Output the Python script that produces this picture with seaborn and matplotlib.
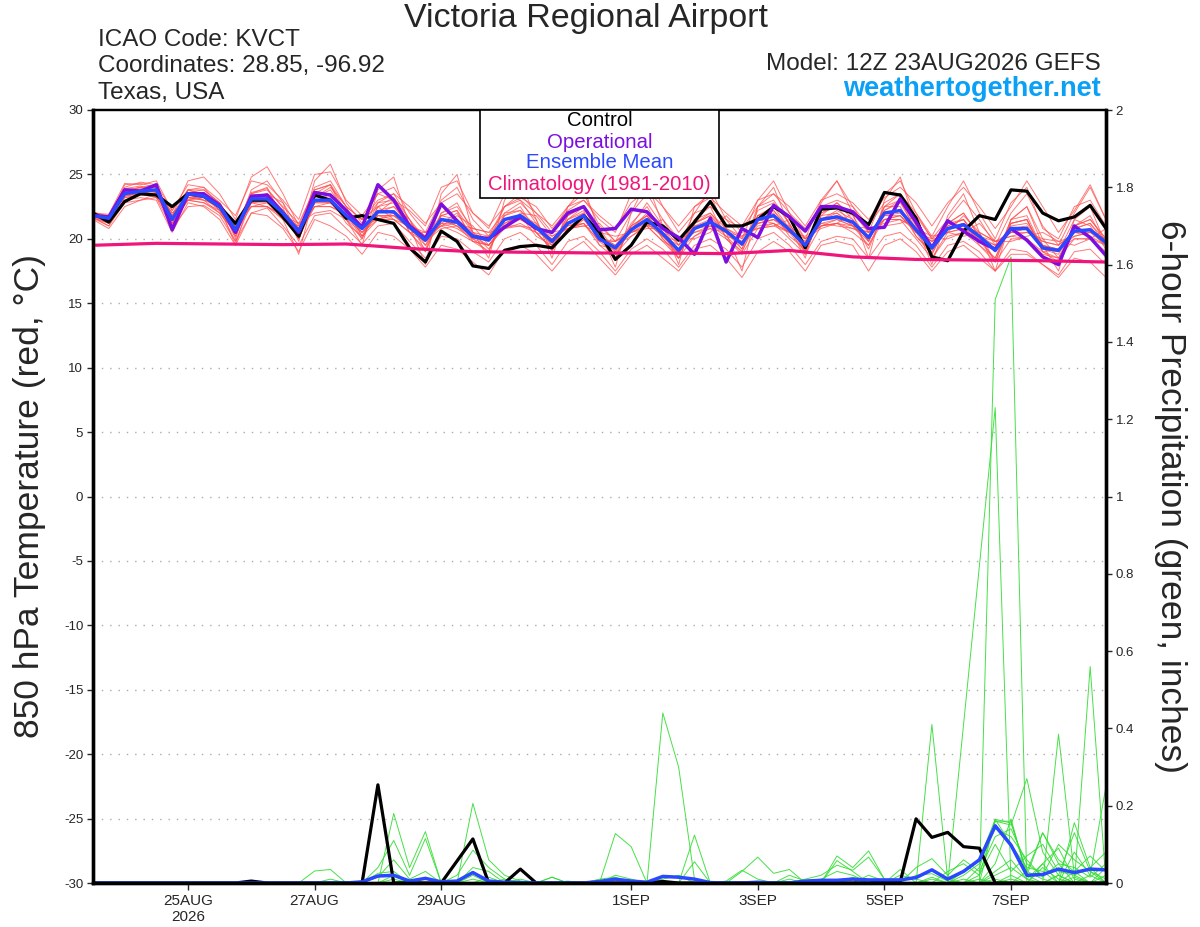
import numpy as np
import pandas as pd
import matplotlib
matplotlib.use("Agg")
import matplotlib.pyplot as plt
import seaborn as sns
from matplotlib.patches import Rectangle

# ---------------- data ----------------
step_hours = 6
n_steps = 65
tick_hours = [36, 84, 132, 204, 252, 300, 348]
tick_labels = ["25AUG\n2026", "27AUG", "29AUG", "1SEP", "3SEP", "5SEP", "7SEP"]

control_t = [22.0,21.3,22.9,23.5,23.4,22.5,23.5,23.3,22.5,21.2,23.0,23.0,21.7,20.2,23.4,23.0,
             21.6,21.8,21.5,21.2,19.3,18.2,20.6,19.8,17.9,17.7,19.1,19.4,19.5,19.3,20.6,21.8,
             20.5,18.4,19.5,21.3,21.0,19.9,21.3,22.9,21.0,21.0,21.5,22.5,21.7,19.3,22.3,22.4,
             22.0,21.1,23.6,23.4,21.6,18.6,18.3,20.6,21.8,21.5,23.8,23.7,22.0,21.4,21.7,22.6,20.8]
operational_t = [21.8,21.7,23.8,23.7,24.2,20.7,23.5,23.5,22.6,20.5,23.3,23.4,22.0,20.5,23.6,23.4,
                 22.2,20.9,24.2,23.0,21.0,20.0,22.7,21.4,20.2,20.0,20.9,21.7,20.8,20.5,22.0,22.5,
                 20.7,20.8,22.3,22.1,20.8,20.1,18.8,21.6,18.2,20.8,20.1,22.6,21.7,20.6,22.5,22.5,
                 22.1,20.8,20.9,23.1,21.3,19.3,21.4,20.6,19.8,19.2,20.8,19.9,18.6,18.0,21.0,20.1,18.7]
mean_t = [21.8,21.6,23.5,23.7,23.8,21.5,23.5,23.3,22.5,20.7,23.1,23.1,22.0,20.6,23.0,23.0,
          21.8,20.8,22.1,22.1,20.9,19.9,21.5,21.3,20.2,19.9,21.5,21.8,20.9,19.8,21.2,21.8,
          20.0,19.3,20.7,21.5,20.4,19.1,20.8,21.3,20.6,19.6,21.5,21.8,20.7,19.5,21.5,21.7,
          21.3,20.1,22.0,22.2,20.7,19.3,20.8,21.1,20.2,19.1,20.8,20.8,19.3,19.1,20.6,20.7,19.7]
clim_hours = [0, 24, 48, 72, 96, 120, 144, 168, 192, 216, 240, 264, 288, 312, 336, 360, 384]
clim_t = [19.5,19.65,19.6,19.55,19.6,19.25,19.0,18.95,18.9,18.9,18.85,19.1,18.6,18.4,18.35,18.3,18.2]

m01 = [22.0,21.5,24.2,24.3,24.0,21.8,24.5,24.8,23.5,21.5,24.8,25.6,23.5,21.0,24.0,24.5,22.5,21.5,23.5,24.0,22.0,20.5,23.0,24.0,21.5,20.2,22.5,23.5,22.0,20.5,22.5,23.5,21.0,19.8,22.0,23.5,21.5,19.5,22.0,23.8,21.5,20.0,23.0,24.5,22.0,20.0,23.0,24.5,22.5,20.5,23.5,24.5,22.0,20.0,21.5,23.0,21.5,19.5,22.0,23.5,21.0,19.5,22.0,24.0,21.5]
m02 = [21.6,21.2,22.8,23.0,23.2,20.8,22.5,22.6,21.8,19.8,22.0,22.4,21.0,19.5,21.8,22.0,20.8,19.6,21.0,21.2,19.8,18.5,20.2,20.0,19.0,18.2,20.0,20.5,19.5,18.0,19.8,20.2,19.0,17.5,19.2,20.0,19.2,17.8,19.5,20.0,19.2,17.8,20.0,20.5,19.5,18.0,19.8,20.2,20.0,18.5,20.2,20.5,19.5,17.8,19.5,19.8,19.0,17.5,19.2,19.0,18.0,17.2,19.0,19.2,18.0]
m03 = [21.9,21.8,23.9,24.1,23.7,21.2,23.8,23.4,22.8,20.2,23.6,23.9,22.4,19.8,24.5,25.8,22.8,21.2,22.8,23.5,21.5,19.0,22.0,22.5,20.8,20.5,22.0,22.8,21.5,19.0,21.5,22.5,20.5,18.5,21.0,22.8,21.0,18.8,21.5,22.0,20.8,19.2,22.2,22.8,21.2,18.8,22.0,22.8,21.8,19.8,22.5,23.5,21.2,18.5,20.5,21.8,20.5,18.2,21.5,22.5,20.0,18.5,21.0,21.5,20.0]
m04 = [21.7,21.0,23.2,23.4,23.9,22.0,23.0,23.2,22.2,21.0,22.5,22.8,21.5,21.0,22.5,22.5,22.0,21.5,22.5,21.5,20.5,20.5,21.0,20.5,19.8,19.5,21.0,21.0,20.5,20.0,21.0,21.2,19.5,19.2,20.5,21.0,19.8,19.2,20.2,21.0,20.8,20.2,21.2,21.5,21.0,20.0,21.0,21.2,20.8,20.5,21.5,21.8,20.5,19.8,20.5,20.8,20.0,19.5,20.5,20.5,19.8,19.5,20.5,20.2,19.5]
m05 = [21.8,21.4,24.0,24.4,24.2,20.8,23.8,24.0,22.5,19.5,23.5,24.0,21.5,18.8,23.5,24.2,21.5,19.5,23.8,24.8,21.0,18.0,23.5,25.0,20.5,18.5,23.0,24.5,21.5,18.5,22.5,24.0,20.5,17.8,22.0,24.5,21.0,18.0,22.5,23.5,20.5,17.5,22.5,24.0,21.0,18.5,22.8,24.5,22.0,18.5,23.0,24.8,21.0,18.0,21.8,23.5,20.5,17.5,21.5,22.5,19.5,17.5,21.5,22.5,19.5]
m06 = [21.5,20.8,22.5,23.0,23.5,21.2,23.0,22.8,22.0,20.5,22.8,23.0,22.0,20.2,22.8,23.5,22.2,20.2,21.5,22.0,21.2,20.2,21.5,21.0,20.0,19.5,21.2,21.8,21.2,19.5,20.5,21.5,20.2,19.5,20.2,21.0,20.8,19.5,20.5,21.0,20.2,19.8,21.0,21.2,20.5,19.8,21.2,21.0,20.8,20.2,21.5,21.5,20.8,19.8,20.5,20.2,20.5,19.8,20.2,20.0,19.0,19.2,20.0,20.0,19.5]
m07 = [22.1,21.7,23.6,23.5,23.5,21.0,23.5,23.0,22.8,20.8,23.0,23.5,22.8,20.8,23.5,23.0,21.5,20.5,22.0,22.5,21.5,20.0,21.0,21.8,21.0,19.5,21.0,22.0,21.8,20.2,20.8,21.0,21.2,19.8,20.5,21.0,21.5,20.0,20.0,20.5,21.8,20.5,20.8,21.0,21.5,20.0,20.8,21.2,22.0,20.5,21.0,21.2,21.8,20.0,20.0,20.5,21.2,19.8,19.8,20.2,20.5,19.8,19.5,20.0,20.8]
m08 = [21.8,21.5,23.8,24.0,23.6,21.5,23.2,23.5,22.5,20.2,23.2,23.0,21.8,20.5,23.0,22.8,21.5,20.0,22.5,22.8,20.5,19.0,21.8,22.2,19.8,19.0,21.8,22.5,20.5,19.2,21.5,22.2,19.5,18.5,21.0,21.8,20.0,18.5,21.2,21.8,20.2,19.0,21.8,22.2,20.5,19.0,21.8,22.0,21.0,19.8,22.5,22.5,20.2,18.8,21.2,21.5,19.8,18.5,21.2,21.5,19.0,18.5,20.8,21.2,19.5]
m09 = [22.0,21.9,24.3,24.2,24.5,22.2,24.2,24.0,23.0,21.8,24.5,24.2,23.0,21.5,25.0,25.2,23.0,21.8,23.5,23.0,22.2,21.0,24.0,24.5,22.0,20.8,23.5,23.0,22.0,21.0,22.5,23.0,21.5,20.5,23.5,25.0,22.5,20.5,22.0,22.5,21.5,20.8,22.5,23.5,22.0,20.8,22.5,23.0,22.5,21.0,22.8,23.5,22.0,20.2,22.5,24.5,22.0,20.0,22.8,24.0,20.8,20.0,22.5,23.0,21.0]
m10 = [21.6,21.3,23.0,23.2,23.0,20.5,22.8,22.5,21.5,19.5,22.0,21.8,20.8,19.0,21.5,21.0,20.2,18.8,20.5,20.2,19.2,17.8,19.5,19.2,18.2,17.2,19.2,19.5,18.8,17.5,19.0,19.8,18.5,17.2,18.8,19.5,18.5,17.5,19.2,19.5,18.5,17.0,19.0,19.8,19.0,17.5,19.5,19.8,19.5,17.5,19.5,20.0,19.0,17.5,19.0,19.5,18.5,17.5,18.8,18.8,18.0,17.0,18.5,18.2,17.0]
m11 = [21.9,21.6,23.5,23.8,24.0,21.8,23.8,23.5,22.2,20.5,23.2,23.5,22.2,20.8,23.2,23.8,22.0,20.8,22.2,22.5,21.0,20.2,21.8,21.5,20.5,20.2,21.8,22.2,21.0,19.8,21.2,22.0,20.2,19.5,21.0,21.8,20.2,19.0,21.0,21.5,20.5,19.5,21.8,22.2,20.8,19.5,21.5,22.0,21.2,20.0,22.2,22.8,20.8,19.5,21.0,21.5,20.0,19.0,21.0,21.2,19.5,19.0,20.8,21.2,19.8]
m12 = [21.7,21.4,23.3,23.6,23.8,21.0,23.2,23.0,22.5,20.8,22.8,22.8,22.2,20.2,22.5,22.5,21.8,21.0,21.8,21.5,21.0,20.5,21.2,20.8,20.0,20.2,21.5,21.5,20.8,20.2,21.0,21.5,20.0,19.8,20.8,21.2,20.2,19.5,21.0,21.2,20.8,20.0,21.5,21.2,20.5,20.0,21.0,21.5,21.0,20.5,21.8,21.8,20.5,20.0,20.8,21.0,20.5,19.8,20.5,20.8,19.8,19.5,20.5,20.5,20.0]
m13 = [21.8,21.2,23.6,24.0,24.2,22.2,23.8,23.8,22.8,20.0,23.5,23.2,21.8,20.0,23.2,24.0,22.5,20.2,22.0,23.0,20.8,19.5,21.2,22.0,20.0,19.0,22.0,22.2,20.5,19.2,21.8,22.5,20.0,18.8,20.8,22.0,20.0,18.8,21.5,22.5,20.0,19.0,21.5,22.0,20.2,19.2,22.0,22.5,21.0,19.5,22.0,22.2,20.2,19.0,21.0,21.5,19.5,18.5,21.5,21.8,19.2,19.0,21.5,21.0,19.2]
m14 = [22.0,21.8,23.2,23.4,23.3,21.2,23.0,22.8,22.2,21.2,22.5,22.5,21.8,21.2,22.0,22.2,21.5,21.0,21.5,21.8,21.2,20.2,21.0,21.2,20.8,20.5,20.8,21.0,20.8,20.5,20.8,21.0,20.5,20.2,20.5,20.8,20.8,20.0,20.5,20.8,20.5,20.2,20.8,21.0,20.5,20.2,21.0,21.2,21.0,20.8,21.2,21.5,20.8,20.2,20.5,20.8,20.2,19.8,20.2,20.5,20.0,19.8,20.2,20.5,20.0]
m15 = [21.6,21.0,22.8,23.5,23.2,21.8,23.0,23.5,22.5,20.5,23.8,24.5,22.8,20.0,22.8,23.2,21.2,20.2,22.8,23.0,20.5,19.2,22.0,22.8,20.5,19.2,21.2,21.8,20.2,19.5,21.8,22.5,20.8,19.0,21.2,22.5,20.5,18.5,21.2,22.0,20.5,19.2,22.5,23.0,21.2,19.0,21.8,22.8,21.5,19.2,22.2,23.0,20.5,18.8,21.2,22.0,20.2,18.2,21.2,21.5,19.0,18.2,21.0,21.8,19.5]
m16 = [21.9,21.7,23.9,23.8,23.7,21.6,23.6,23.2,22.8,20.8,22.8,22.5,21.5,20.5,22.5,22.8,21.8,20.8,21.8,21.8,20.8,19.8,21.5,21.0,19.8,19.5,20.8,21.2,20.5,19.2,20.8,21.2,19.8,18.8,20.2,21.0,19.8,18.5,20.2,20.8,20.0,18.8,20.8,21.2,20.0,18.8,21.0,21.2,20.5,19.5,21.5,21.5,20.0,18.5,20.2,20.5,19.5,18.2,20.0,20.0,18.8,18.5,20.0,20.0,19.0]
m17 = [21.8,21.6,23.7,24.0,24.0,21.6,23.6,23.8,22.8,21.0,23.5,23.8,22.5,21.2,23.8,24.2,22.5,21.5,23.0,23.5,22.5,21.2,22.8,23.5,22.0,21.0,22.5,23.2,22.5,20.8,22.2,23.0,21.8,20.8,22.8,23.8,22.5,21.0,22.5,23.2,22.0,21.0,23.0,23.5,22.5,21.0,23.0,23.5,22.8,21.5,23.2,24.0,22.8,21.0,22.8,24.0,22.5,20.8,22.5,24.5,22.5,20.5,22.2,24.2,21.5]
m18 = [21.7,21.5,23.4,23.5,23.6,21.4,23.2,23.0,22.0,20.5,22.5,22.5,21.8,20.5,22.8,22.8,21.8,20.5,21.8,21.8,20.8,19.8,21.2,21.2,20.2,19.5,21.0,21.5,20.8,19.5,21.2,21.8,20.2,19.2,20.8,21.5,20.5,19.2,20.8,21.2,20.5,19.5,21.2,21.5,20.8,19.5,21.5,21.8,21.2,20.0,21.8,22.0,20.8,19.5,20.8,21.2,20.2,19.2,20.8,21.0,19.5,19.2,20.5,20.8,19.8]
m19 = [21.9,21.3,23.5,23.9,23.8,21.0,23.5,23.6,22.2,19.8,22.8,23.5,22.2,20.0,23.8,24.2,22.0,20.0,22.5,23.2,21.5,19.5,21.8,22.2,20.5,19.8,22.5,23.0,21.2,19.8,21.5,22.0,20.0,19.0,20.8,21.8,20.2,18.8,21.2,21.8,20.5,19.5,21.8,22.5,20.8,19.2,21.5,22.2,21.5,19.8,22.5,23.0,21.0,19.2,21.2,22.0,20.2,19.0,21.2,21.5,19.2,18.8,21.0,21.5,20.0]
m20 = [21.8,21.8,23.3,23.5,23.8,22.0,23.2,23.2,22.5,21.0,23.0,23.2,22.2,20.8,22.8,22.8,22.0,20.5,21.5,21.5,20.5,19.8,20.8,21.0,20.2,20.0,21.5,21.8,21.0,20.0,20.8,21.2,19.8,19.8,20.5,21.2,20.2,19.8,20.8,21.0,20.5,19.8,21.2,21.5,20.5,19.8,21.2,21.5,21.0,20.2,21.5,21.8,20.5,19.8,20.8,21.2,20.2,19.5,20.5,20.8,19.5,19.2,20.2,20.5,19.5]
members_t = [m01, m02, m03, m04, m05, m06, m07, m08, m09, m10,
             m11, m12, m13, m14, m15, m16, m17, m18, m19, m20]

# 6-hour precipitation (inches), nonzero steps only {step index: value}
control_p = {10: 0.005, 17: 0.0, 18: 0.254, 19: 0.0, 22: 0.0, 23: 0.057, 24: 0.114, 25: 0.0,
             27: 0.036, 28: 0.0, 36: 0.004, 50: 0.006, 51: 0.003, 52: 0.166, 53: 0.118,
             54: 0.131, 55: 0.094, 56: 0.09, 57: 0.0}
mean_p = {17: 0.003, 18: 0.018, 19: 0.02, 20: 0.005, 21: 0.012, 22: 0.003, 23: 0.005, 24: 0.027,
          25: 0.005, 26: 0.002, 27: 0.001, 32: 0.004, 33: 0.01, 34: 0.005, 35: 0.002, 36: 0.017,
          37: 0.015, 38: 0.01, 39: 0.001, 42: 0.002, 45: 0.005, 46: 0.007, 47: 0.007, 48: 0.01,
          49: 0.008, 50: 0.008, 51: 0.008, 52: 0.014, 53: 0.034, 54: 0.01, 55: 0.03, 56: 0.06,
          57: 0.148, 58: 0.098, 59: 0.02, 60: 0.022, 61: 0.036, 62: 0.027, 63: 0.036, 64: 0.034}
g01 = {14: 0.031, 15: 0.035, 19: 0.18, 20: 0.04, 21: 0.133, 36: 0.44, 37: 0.30, 38: 0.01,
       47: 0.07, 48: 0.04, 49: 0.083, 50: 0.01, 57: 0.165, 58: 0.155, 59: 0.03, 60: 0.13, 61: 0.05}
g02 = {18: 0.04, 19: 0.11, 20: 0.02, 21: 0.115, 24: 0.206, 25: 0.06, 26: 0.02, 27: 0.005,
       53: 0.41, 54: 0.01, 61: 0.385, 62: 0.02}
g03 = {18: 0.015, 19: 0.06, 20: 0.01, 21: 0.03, 33: 0.128, 34: 0.094, 41: 0.03, 42: 0.067,
       43: 0.025, 44: 0.035, 55: 0.41, 56: 0.82, 57: 1.23, 62: 0.156, 63: 0.04}
g04 = {23: 0.02, 24: 0.085, 25: 0.04, 26: 0.01, 38: 0.124, 57: 1.51, 58: 1.62, 60: 0.05, 63: 0.56}
g05 = {18: 0.025, 19: 0.03, 29: 0.015, 38: 0.055, 47: 0.058, 48: 0.03, 51: 0.035, 56: 0.04,
       57: 0.16, 58: 0.15, 59: 0.27, 60: 0.08, 61: 0.02}
g06 = {24: 0.04, 25: 0.03, 33: 0.02, 34: 0.01, 45: 0.01, 46: 0.02, 47: 0.046, 48: 0.033,
       49: 0.067, 50: 0.01, 55: 0.03, 56: 0.06, 57: 0.165, 58: 0.10, 59: 0.04, 60: 0.03,
       62: 0.08, 63: 0.02, 64: 0.25}
g07 = {19: 0.02, 25: 0.015, 40: 0.005, 41: 0.033, 42: 0.01, 52: 0.04, 53: 0.063, 54: 0.02,
       55: 0.06, 56: 0.03, 57: 0.12, 58: 0.14, 59: 0.05, 60: 0.02, 61: 0.1, 62: 0.06, 63: 0.03}
g08 = {24: 0.03, 26: 0.01, 36: 0.005, 48: 0.01, 52: 0.02, 53: 0.024, 54: 0.005, 56: 0.02,
       57: 0.16, 58: 0.16, 59: 0.02, 60: 0.13, 61: 0.06, 62: 0.03, 63: 0.07, 64: 0.03}
g09 = {29: 0.015, 44: 0.02, 45: 0.005, 51: 0.02, 52: 0.01, 55: 0.02, 56: 0.05, 57: 0.14,
       58: 0.12, 59: 0.06, 60: 0.015, 61: 0.05, 62: 0.04, 63: 0.015, 64: 0.05}
g10 = {32: 0.01, 33: 0.015, 46: 0.01, 47: 0.03, 48: 0.02, 54: 0.03, 55: 0.05, 56: 0.02,
       57: 0.10, 58: 0.03, 59: 0.07, 60: 0.1, 61: 0.03, 62: 0.02, 63: 0.04, 64: 0.08}
g11 = {27: 0.01, 36: 0.01, 37: 0.02, 53: 0.01, 57: 0.05, 58: 0.165, 59: 0.02, 61: 0.02,
       62: 0.13, 63: 0.03, 64: 0.01}
g12 = {20: 0.01, 24: 0.02, 32: 0.005, 49: 0.02, 50: 0.005, 55: 0.01, 57: 0.03, 58: 0.06,
       59: 0.01, 60: 0.05, 61: 0.09, 62: 0.01, 64: 0.04}
g13 = {15: 0.01, 24: 0.01, 57: 0.02, 58: 0.04, 59: 0.01, 63: 0.02}
g14 = {19: 0.01, 48: 0.015, 56: 0.01, 59: 0.03, 60: 0.01, 62: 0.03}
g15 = {30: 0.005, 44: 0.01, 57: 0.01, 61: 0.02, 64: 0.02}
g16 = {22: 0.005, 53: 0.015, 58: 0.02, 60: 0.04, 61: 0.01}
g17 = {}
g18 = {36: 0.005, 62: 0.015}
g19 = {}
g20 = {58: 0.01}
members_p = [g01, g02, g03, g04, g05, g06, g07, g08, g09, g10,
             g11, g12, g13, g14, g15, g16, g17, g18, g19, g20]

for k, m in enumerate(members_t):
    assert len(m) == n_steps, f"member {k+1} has {len(m)}"
for name, s in [("control", control_t), ("op", operational_t), ("mean", mean_t)]:
    assert len(s) == n_steps, f"{name} has {len(s)}"

# ---------------- tables ----------------
hours = np.arange(n_steps) * step_hours


def dense(d):
    arr = np.zeros(n_steps)
    for k, v in d.items():
        arr[k] = v
    return arr


df_t = pd.concat([pd.DataFrame({"hour": hours, "temp": m, "member": k})
                  for k, m in enumerate(members_t)], ignore_index=True)
df_p = pd.concat([pd.DataFrame({"hour": hours, "precip": dense(d), "member": k})
                  for k, d in enumerate(members_p)], ignore_index=True)
df_lines = pd.DataFrame({"hour": hours, "control": control_t, "op": operational_t,
                         "mean": mean_t, "control_p": dense(control_p),
                         "mean_p": dense(mean_p)})
df_clim = pd.DataFrame({"hour": clim_hours, "clim": clim_t})

# ---------------- style ----------------
sns.set_style("white")
plt.rcParams["font.family"] = ["Liberation Sans", "DejaVu Sans"]

RED = "#ff4d4d"
GREEN = "#33dd33"
PURPLE = "#7d0ee0"
BLUE = "#2a48ff"
PINK = "#f0157a"

W, H = 1200, 927
fig = plt.figure(figsize=(W / 100, H / 100), dpi=100)
ax = fig.add_axes([93 / W, (H - 883) / H, (1106 - 93) / W, (883 - 110) / H])
ax2 = ax.twinx()
ax.set_zorder(ax2.get_zorder() + 1)
ax.patch.set_visible(False)

# precipitation (right axis)
sns.lineplot(data=df_p, x="hour", y="precip", units="member", estimator=None,
             color=GREEN, lw=0.7, alpha=0.9, ax=ax2, legend=False)
sns.lineplot(data=df_lines, x="hour", y="control_p", color="black", lw=2.3, ax=ax2)
sns.lineplot(data=df_lines, x="hour", y="mean_p", color=BLUE, lw=2.5, ax=ax2)

# temperature (left axis)
sns.lineplot(data=df_t, x="hour", y="temp", units="member", estimator=None,
             color=RED, lw=0.7, alpha=0.75, ax=ax, legend=False)
sns.lineplot(data=df_lines, x="hour", y="control", color="black", lw=2.3, ax=ax)
sns.lineplot(data=df_lines, x="hour", y="op", color=PURPLE, lw=2.5, ax=ax)
sns.lineplot(data=df_lines, x="hour", y="mean", color=BLUE, lw=2.5, ax=ax)
sns.lineplot(data=df_clim, x="hour", y="clim", color=PINK, lw=2.3, ax=ax)

ax.set_xlim(0, 384)
ax.set_ylim(-30, 30)
ax2.set_ylim(0, 2)
ax.set_xticks(tick_hours)
ax.set_xticklabels(tick_labels)
ax.set_yticks(np.arange(-30, 31, 5))
ax.set_yticklabels([str(v) for v in range(-30, 31, 5)])
p_ticks = np.round(np.arange(0, 2.01, 0.2), 1)
ax2.set_yticks(p_ticks)
ax2.set_yticklabels([("%g" % v) for v in p_ticks])
ax.set_xlabel("")
ax.set_ylabel("")
ax2.set_ylabel("")

for y in range(-25, 30, 5):
    ax.axhline(y, color="#aaaaaa", lw=1.0, ls=(0, (1, 5)), zorder=0)
ax.grid(False)
ax2.grid(False)

ax.tick_params(axis="y", labelsize=9.5, length=4, width=1, direction="out", pad=3, left=True)
ax.tick_params(axis="x", labelsize=11, length=5, width=1, direction="out", pad=3, bottom=True)
ax2.tick_params(axis="y", labelsize=9.5, length=4, width=1, direction="out", pad=3, right=True)

for a in (ax, ax2):
    for side, lw in (("left", 2.4), ("right", 2.4), ("bottom", 2.4), ("top", 1.6)):
        a.spines[side].set_visible(True)
        a.spines[side].set_linewidth(lw)
        a.spines[side].set_color("black")

# legend box
lx0 = (480 - 93) / (1106 - 93)
lx1 = (719 - 93) / (1106 - 93)
ly0 = (883 - 198) / (883 - 110)
ax.add_patch(Rectangle((lx0, ly0), lx1 - lx0, 1 - ly0, transform=ax.transAxes,
                       facecolor="white", edgecolor="black", lw=1.2, zorder=20, clip_on=False))
leg_items = [("Control", "black", 121), ("Operational", PURPLE, 142),
             ("Ensemble Mean", BLUE, 163), ("Climatology (1981-2010)", PINK, 185)]
for txt, col, ypix in leg_items:
    ax.text((lx0 + lx1) / 2, (883 - ypix) / (883 - 110), txt, color=col, fontsize=14.7,
            ha="center", va="center", transform=ax.transAxes, zorder=21)

# header texts
fig.text(586 / W, 1 - 19 / H, "Victoria Regional Airport", fontsize=24.5, ha="center", va="center")
fig.text(98 / W, 1 - 40 / H, "ICAO Code: KVCT", fontsize=17.5, ha="left", va="center")
fig.text(98 / W, 1 - 66 / H, "Coordinates: 28.85, -96.92", fontsize=17.5, ha="left", va="center")
fig.text(98 / W, 1 - 93 / H, "Texas, USA", fontsize=17.5, ha="left", va="center")
fig.text(1101 / W, 1 - 64 / H, "Model: 12Z 23AUG2026 GEFS", fontsize=17.5, ha="right", va="center")
fig.text(1101 / W, 1 - 89 / H, "weathertogether.net", fontsize=19.5, fontweight="bold",
         color="#0aa0f5", ha="right", va="center")

fig.text(30 / W, 1 - 496 / H, "850 hPa Temperature (red, °C)", fontsize=25.5,
         rotation=90, ha="center", va="center")
fig.text(1170 / W, 1 - 496 / H, "6-hour Precipitation (green, inches)", fontsize=25.5,
         rotation=270, ha="center", va="center")

fig.savefig("out.png", dpi=100)
